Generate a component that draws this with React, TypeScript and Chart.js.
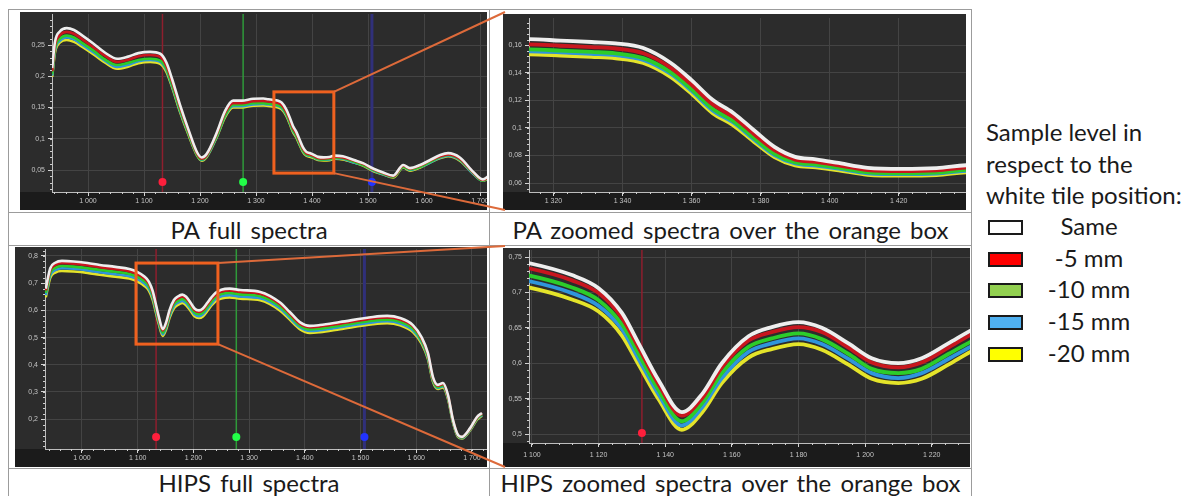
import React, { useEffect, useRef } from "react";
import { Chart, registerables } from "chart.js";
Chart.register(...registerables);

// ---------------- data ----------------
const SERIES_LABELS = ["Same", "-5 mm", "-10 mm", "-15 mm", "-20 mm"];

const PA_NM = [936, 941, 950, 962, 975, 990, 1010, 1030, 1052, 1070, 1090, 1111, 1129, 1140, 1150, 1164, 1180, 1195, 1203, 1212, 1230, 1245, 1259, 1275, 1295,
  1313, 1322, 1331, 1338, 1346, 1354, 1360, 1366, 1372, 1378, 1384, 1390, 1396, 1402, 1411, 1421, 1431, 1441,
  1455, 1475, 1491, 1510, 1527, 1545, 1563, 1575, 1593, 1611, 1629, 1643, 1664, 1688, 1705, 1715];
const PA_SAME = [0.213, 0.255, 0.272, 0.277, 0.274, 0.265, 0.252, 0.238, 0.228, 0.231, 0.237, 0.239, 0.236, 0.222, 0.196, 0.155, 0.113, 0.078, 0.070, 0.076, 0.110, 0.145, 0.161, 0.161, 0.164,
  0.1643, 0.1632, 0.1622, 0.1612, 0.1578, 0.1470, 0.1346, 0.1205, 0.1110, 0.0984, 0.0862, 0.0790, 0.0772, 0.0748, 0.0710, 0.0702, 0.0708, 0.0730,
  0.072, 0.066, 0.061, 0.052, 0.046, 0.041, 0.058, 0.053, 0.058, 0.066, 0.074, 0.077, 0.070, 0.047, 0.035, 0.040];
const PA_M5 = [0.208, 0.249, 0.266, 0.271, 0.268, 0.259, 0.246, 0.233, 0.223, 0.226, 0.232, 0.234, 0.231, 0.217, 0.192, 0.152, 0.111, 0.076, 0.068, 0.074, 0.108, 0.142, 0.157, 0.157, 0.160,
  0.1605, 0.1595, 0.1585, 0.1575, 0.1540, 0.1435, 0.1312, 0.1172, 0.1080, 0.0956, 0.0838, 0.0770, 0.0753, 0.0730, 0.0694, 0.0686, 0.0692, 0.0713,
  0.070, 0.065, 0.060, 0.051, 0.045, 0.040, 0.057, 0.052, 0.057, 0.065, 0.072, 0.075, 0.068, 0.046, 0.034, 0.039];
const PA_M10 = [0.203, 0.244, 0.260, 0.265, 0.262, 0.253, 0.241, 0.227, 0.218, 0.221, 0.226, 0.228, 0.225, 0.212, 0.187, 0.148, 0.108, 0.074, 0.067, 0.073, 0.105, 0.138, 0.154, 0.154, 0.157,
  0.1568, 0.1560, 0.1550, 0.1540, 0.1505, 0.1402, 0.1280, 0.1140, 0.1050, 0.0928, 0.0812, 0.0750, 0.0734, 0.0713, 0.0678, 0.0670, 0.0675, 0.0696,
  0.069, 0.063, 0.058, 0.050, 0.044, 0.039, 0.055, 0.051, 0.055, 0.063, 0.071, 0.074, 0.067, 0.045, 0.033, 0.038];
const PA_M15 = [0.201, 0.241, 0.257, 0.262, 0.259, 0.250, 0.238, 0.225, 0.215, 0.218, 0.224, 0.226, 0.223, 0.210, 0.185, 0.146, 0.107, 0.074, 0.066, 0.072, 0.104, 0.137, 0.152, 0.152, 0.155,
  0.1555, 0.1547, 0.1537, 0.1527, 0.1492, 0.1390, 0.1268, 0.1128, 0.1040, 0.0918, 0.0803, 0.0742, 0.0726, 0.0706, 0.0671, 0.0664, 0.0669, 0.0690,
  0.068, 0.062, 0.058, 0.049, 0.043, 0.039, 0.055, 0.050, 0.055, 0.062, 0.070, 0.073, 0.066, 0.044, 0.033, 0.038];
const PA_M20 = [0.199, 0.238, 0.254, 0.258, 0.255, 0.247, 0.235, 0.222, 0.212, 0.215, 0.221, 0.223, 0.220, 0.207, 0.183, 0.144, 0.105, 0.073, 0.065, 0.071, 0.103, 0.135, 0.150, 0.150, 0.153,
  0.1532, 0.1524, 0.1514, 0.1504, 0.1470, 0.1368, 0.1247, 0.1108, 0.1020, 0.0900, 0.0788, 0.0728, 0.0713, 0.0694, 0.0660, 0.0653, 0.0658, 0.0679,
  0.067, 0.062, 0.057, 0.048, 0.043, 0.038, 0.054, 0.049, 0.054, 0.062, 0.069, 0.072, 0.065, 0.044, 0.033, 0.037];

const HIPS_NM = [935, 943, 952, 964, 985, 1010, 1032, 1060, 1085, 1099, 1112, 1120, 1127, 1132, 1138, 1145, 1151, 1157, 1165, 1172, 1180, 1187, 1195, 1202, 1210, 1217, 1225, 1232, 1240, 1250, 1265, 1284, 1320, 1355, 1373, 1391, 1409, 1427, 1463, 1522, 1548, 1571, 1594, 1610, 1621, 1630, 1639, 1648, 1657, 1666, 1675, 1682, 1697, 1709, 1718];
const HIPS_SAME = [0.680, 0.755, 0.775, 0.782, 0.780, 0.774, 0.767, 0.760, 0.752, 0.7415, 0.7245, 0.706, 0.671, 0.628, 0.576, 0.531, 0.556, 0.600, 0.638, 0.651, 0.658, 0.650, 0.628, 0.607, 0.600, 0.607, 0.628, 0.647, 0.665, 0.676, 0.680, 0.675, 0.668, 0.630, 0.594, 0.557, 0.543, 0.546, 0.557, 0.576, 0.580, 0.572, 0.546, 0.500, 0.443, 0.355, 0.326, 0.333, 0.289, 0.197, 0.142, 0.135, 0.168, 0.208, 0.223];
const HIPS_M5 = [0.673, 0.747, 0.767, 0.774, 0.772, 0.766, 0.759, 0.752, 0.744, 0.734, 0.717, 0.699, 0.664, 0.622, 0.570, 0.526, 0.550, 0.594, 0.632, 0.644, 0.651, 0.644, 0.622, 0.601, 0.594, 0.601, 0.622, 0.641, 0.658, 0.669, 0.673, 0.668, 0.661, 0.624, 0.588, 0.551, 0.538, 0.541, 0.551, 0.570, 0.574, 0.566, 0.541, 0.495, 0.439, 0.351, 0.323, 0.330, 0.286, 0.195, 0.141, 0.134, 0.166, 0.206, 0.221];
const HIPS_M10 = [0.664, 0.737, 0.756, 0.763, 0.761, 0.755, 0.749, 0.742, 0.734, 0.724, 0.707, 0.689, 0.655, 0.613, 0.562, 0.518, 0.543, 0.586, 0.623, 0.635, 0.642, 0.634, 0.613, 0.592, 0.586, 0.592, 0.613, 0.631, 0.649, 0.660, 0.664, 0.659, 0.652, 0.615, 0.580, 0.544, 0.530, 0.533, 0.544, 0.562, 0.566, 0.558, 0.533, 0.488, 0.432, 0.346, 0.318, 0.325, 0.282, 0.192, 0.139, 0.132, 0.164, 0.203, 0.218];
const HIPS_M15 = [0.656, 0.729, 0.748, 0.755, 0.753, 0.747, 0.740, 0.733, 0.726, 0.716, 0.699, 0.681, 0.648, 0.606, 0.556, 0.512, 0.537, 0.579, 0.616, 0.628, 0.635, 0.627, 0.606, 0.586, 0.579, 0.586, 0.606, 0.624, 0.642, 0.652, 0.656, 0.651, 0.645, 0.608, 0.573, 0.538, 0.524, 0.527, 0.538, 0.556, 0.560, 0.552, 0.527, 0.483, 0.427, 0.343, 0.315, 0.321, 0.279, 0.190, 0.137, 0.130, 0.162, 0.201, 0.215];
const HIPS_M20 = [0.648, 0.720, 0.739, 0.745, 0.743, 0.738, 0.731, 0.724, 0.717, 0.707, 0.690, 0.673, 0.639, 0.598, 0.549, 0.506, 0.530, 0.572, 0.608, 0.620, 0.627, 0.619, 0.598, 0.578, 0.572, 0.578, 0.598, 0.617, 0.634, 0.644, 0.648, 0.643, 0.637, 0.600, 0.566, 0.531, 0.517, 0.520, 0.531, 0.549, 0.553, 0.545, 0.520, 0.477, 0.422, 0.338, 0.311, 0.317, 0.275, 0.188, 0.135, 0.129, 0.160, 0.198, 0.213];

const MARKER_NM = [1133, 1277, 1507];
const PA_BOX_NM = [1332, 1439];
const PA_BOX_VAL = [0.045, 0.175];
const HIPS_BOX_NM = [1097, 1244];
const HIPS_BOX_VAL = [0.476, 0.774];

const CAPTIONS = ["PA full spectra", "PA zoomed spectra over the orange box", "HIPS full spectra", "HIPS zoomed spectra over the orange box"];
const LEGEND_TITLE = ["Sample level in", "respect to the", "white tile position:"];

// ---------------- styles ----------------
const LINE_COLORS = ["#eeeeee", "#c8161e", "#2ccc2a", "#2f95dc", "#e4e42a"];
const LEGEND_FILLS = ["#ffffff", "#ff0000", "#92d050", "#4fb0f0", "#ffff00"];
const MARKER_LINE = ["#8e1f2e", "#2f9a3a", "#30307a"];
const MARKER_LINE_W = [1.5, 1.5, 3];
const MARKER_DOT = ["#ff1f3c", "#22ff48", "#2233ff"];
const ORANGE = "#f0611f";
const FONT = "Lato, 'Open Sans', sans-serif";

type Cfg = {
  left: number; top: number; w: number; h: number; axisLeft: number; padTop: number; band: number;
  xMin: number; xMax: number; yMin: number; yMax: number; xStep: number; yStep: number;
  xMinor: number; yMinor: number; lineW: number; xPad: number; dotOff: number; yTickFloor: number;
};

const P_PA_FULL: Cfg = { left: 20, top: 12, w: 467, h: 198, axisLeft: 32, padTop: 2, band: 18, xMin: 935.7, xMax: 1712.5, yMin: 0.0148, yMax: 0.2996, xStep: 100, yStep: 0.05, xMinor: 20, yMinor: 0.01, lineW: 2.6, xPad: 1, dotOff: 10, yTickFloor: 0 };
const P_PA_ZOOM: Cfg = { left: 503, top: 14, w: 463, h: 196, axisLeft: 26, padTop: 4, band: 18, xMin: 1312.9, xMax: 1439.5, yMin: 0.0535, yMax: 0.1796, xStep: 20, yStep: 0.02, xMinor: 4, yMinor: 0.004, lineW: 3.8, xPad: 1, dotOff: 10, yTickFloor: 0 };
const P_HIPS_FULL: Cfg = { left: 15, top: 247, w: 472, h: 220, axisLeft: 30, padTop: 2, band: 18, xMin: 933.6, xMax: 1727, yMin: 0.0904, yMax: 0.8257, xStep: 100, yStep: 0.1, xMinor: 20, yMinor: 0.02, lineW: 2.6, xPad: 1, dotOff: 12, yTickFloor: 0.15 };
const P_HIPS_ZOOM: Cfg = { left: 503, top: 248, w: 467, h: 219, axisLeft: 26, padTop: 2, band: 24, xMin: 1099.1, xMax: 1231.5, yMin: 0.4873, yMax: 0.7599, xStep: 20, yStep: 0.05, xMinor: 4, yMinor: 0.01, lineW: 3.8, xPad: 4, dotOff: 10, yTickFloor: 0 };

const fmtY = (v: number) => String(Math.round(v * 1000) / 1000).replace(".", ",");
const fmtX = (v: number) => {
  const r = Math.round(v);
  return `${Math.floor(r / 1000)} ${String(r % 1000).padStart(3, "0")}`;
};

const stepTicks = (min: number, max: number, step: number, floor: number) => {
  const out: { value: number }[] = [];
  for (let k = Math.ceil(min / step - 1e-9); k * step <= max + 1e-9; k++) {
    const v = Math.round(k * step * 1e6) / 1e6;
    if (v >= floor - 1e-9) out.push({ value: v });
  }
  return out;
};

function makeChart(canvas: HTMLCanvasElement, cfg: Cfg, nm: number[], series: number[][], box: { nm: number[]; val: number[] } | null) {
  const datasets = series.map((vals, i) => ({
    label: SERIES_LABELS[i],
    data: nm.map((x, j) => ({ x, y: vals[j] })),
    borderColor: LINE_COLORS[i],
    backgroundColor: LINE_COLORS[i],
    borderWidth: cfg.lineW,
    pointRadius: 0,
    cubicInterpolationMode: "monotone" as const,
    fill: false,
  }));

  const panelPlugin = {
    id: "panel",
    beforeDraw(chart: any) {
      const { ctx, chartArea: a } = chart;
      ctx.save();
      ctx.fillStyle = "#2c2c2c";
      ctx.fillRect(0, 0, chart.width, chart.height);
      ctx.fillStyle = "#1b1b1b";
      ctx.fillRect(0, a.bottom, chart.width, chart.height - a.bottom);
      ctx.restore();
    },
    beforeDatasetsDraw(chart: any) {
      const { ctx, chartArea: a, scales } = chart;
      const x = scales.x;
      ctx.save();
      MARKER_NM.forEach((m, i) => {
        if (m < x.min || m > x.max) return;
        const p = x.getPixelForValue(m);
        ctx.strokeStyle = MARKER_LINE[i];
        ctx.lineWidth = MARKER_LINE_W[i];
        ctx.beginPath();
        ctx.moveTo(p, a.top);
        ctx.lineTo(p, a.bottom);
        ctx.stroke();
        ctx.fillStyle = MARKER_DOT[i];
        ctx.beginPath();
        ctx.arc(p, a.bottom - cfg.dotOff, 4, 0, Math.PI * 2);
        ctx.fill();
      });
      ctx.restore();
    },
    afterDatasetsDraw(chart: any) {
      if (!box) return;
      const { ctx, scales } = chart;
      const x0 = scales.x.getPixelForValue(box.nm[0]);
      const x1 = scales.x.getPixelForValue(box.nm[1]);
      const y0 = scales.y.getPixelForValue(box.val[1]);
      const y1 = scales.y.getPixelForValue(box.val[0]);
      ctx.save();
      ctx.strokeStyle = ORANGE;
      ctx.lineWidth = 3;
      ctx.strokeRect(x0, y0, x1 - x0, y1 - y0);
      ctx.restore();
    },
    afterDraw(chart: any) {
      const { ctx, chartArea: a, scales } = chart;
      const x = scales.x, y = scales.y;
      ctx.save();
      ctx.strokeStyle = "#cfcfcf";
      ctx.lineWidth = 1;
      ctx.beginPath();
      for (let k = Math.ceil(x.min / cfg.xMinor); k * cfg.xMinor <= x.max; k++) {
        const p = Math.round(x.getPixelForValue(k * cfg.xMinor)) + 0.5;
        ctx.moveTo(p, a.bottom);
        ctx.lineTo(p, a.bottom + 2);
      }
      for (let k = Math.ceil(y.min / cfg.yMinor); k * cfg.yMinor <= y.max; k++) {
        const p = Math.round(y.getPixelForValue(k * cfg.yMinor)) + 0.5;
        ctx.moveTo(a.left - 2, p);
        ctx.lineTo(a.left, p);
      }
      ctx.stroke();
      ctx.restore();
    },
  };

  const tickFont = { size: 7, family: "'Liberation Sans', Arial, sans-serif" };

  return new Chart(canvas, {
    type: "line",
    data: { datasets },
    plugins: [panelPlugin],
    options: {
      responsive: false,
      animation: false,
      devicePixelRatio: 1,
      events: [],
      layout: { padding: { top: cfg.padTop, right: 0, left: 0, bottom: 0 } },
      plugins: { legend: { display: false }, tooltip: { enabled: false } },
      scales: {
        x: {
          type: "linear",
          min: cfg.xMin,
          max: cfg.xMax,
          afterBuildTicks: (s: any) => { s.ticks = stepTicks(cfg.xMin, cfg.xMax, cfg.xStep, -Infinity); },
          ticks: {
            autoSkip: false,
            maxRotation: 0,
            color: "#c4c4c4",
            font: tickFont,
            padding: cfg.xPad,
            callback: (v: any) => fmtX(Number(v)),
          },
          grid: { color: "#444444", lineWidth: 1, drawTicks: true, tickLength: 4, tickColor: "#d4d4d4" },
          border: { display: true, color: "#bdbdbd", width: 1 },
          afterFit: (s: any) => {
            s.height = cfg.band;
            s.paddingLeft = 0;
            s.paddingRight = 0;
          },
        },
        y: {
          type: "linear",
          min: cfg.yMin,
          max: cfg.yMax,
          afterBuildTicks: (s: any) => { s.ticks = stepTicks(cfg.yMin, cfg.yMax, cfg.yStep, cfg.yTickFloor); },
          ticks: {
            autoSkip: false,
            color: "#c4c4c4",
            font: tickFont,
            padding: 3,
            callback: (v: any) => fmtY(Number(v)),
          },
          grid: { color: "#444444", lineWidth: 1, drawTicks: true, tickLength: 4, tickColor: "#d4d4d4" },
          border: { display: true, color: "#bdbdbd", width: 1 },
          afterFit: (s: any) => {
            s.width = cfg.axisLeft;
            s.paddingTop = 0;
            s.paddingBottom = 0;
          },
        },
      },
    } as any,
  });
}

const lineStyle = (l: number, t: number, w: number, h: number): React.CSSProperties => ({
  position: "absolute", left: l, top: t, width: w, height: h, background: "#9c9c9c",
});

export default function App() {
  const c1 = useRef<HTMLCanvasElement>(null);
  const c2 = useRef<HTMLCanvasElement>(null);
  const c3 = useRef<HTMLCanvasElement>(null);
  const c4 = useRef<HTMLCanvasElement>(null);
  const ov = useRef<HTMLCanvasElement>(null);

  useEffect(() => {
    const paSeries = [PA_SAME, PA_M5, PA_M10, PA_M15, PA_M20];
    const hipsSeries = [HIPS_SAME, HIPS_M5, HIPS_M10, HIPS_M15, HIPS_M20];
    const ch1 = makeChart(c1.current!, P_PA_FULL, PA_NM, paSeries, { nm: PA_BOX_NM, val: PA_BOX_VAL });
    const ch2 = makeChart(c2.current!, P_PA_ZOOM, PA_NM, paSeries, null);
    const ch3 = makeChart(c3.current!, P_HIPS_FULL, HIPS_NM, hipsSeries, { nm: HIPS_BOX_NM, val: HIPS_BOX_VAL });
    const ch4 = makeChart(c4.current!, P_HIPS_ZOOM, HIPS_NM, hipsSeries, null);

    const o = ov.current!;
    const ctx = o.getContext("2d")!;
    ctx.clearRect(0, 0, o.width, o.height);
    const connect = (full: any, fcfg: Cfg, zcfg: Cfg, boxNm: number[], boxVal: number[]) => {
      const bx = fcfg.left + full.scales.x.getPixelForValue(boxNm[1]);
      const byTop = fcfg.top + full.scales.y.getPixelForValue(boxVal[1]);
      const byBot = fcfg.top + full.scales.y.getPixelForValue(boxVal[0]);
      ctx.strokeStyle = "#dd6a3a";
      ctx.lineWidth = 2;
      ctx.beginPath();
      ctx.moveTo(bx, byTop);
      ctx.lineTo(zcfg.left + 2, zcfg.top - 2);
      ctx.moveTo(bx, byBot);
      ctx.lineTo(zcfg.left + 2, zcfg.top + zcfg.h);
      ctx.stroke();
    };
    connect(ch1, P_PA_FULL, P_PA_ZOOM, PA_BOX_NM, PA_BOX_VAL);
    connect(ch3, P_HIPS_FULL, P_HIPS_ZOOM, HIPS_BOX_NM, HIPS_BOX_VAL);

    return () => {
      ch1.destroy(); ch2.destroy(); ch3.destroy(); ch4.destroy();
    };
  }, []);

  const cv = (ref: any, c: Cfg) => (
    <canvas ref={ref} width={c.w} height={c.h} style={{ position: "absolute", left: c.left, top: c.top, width: c.w, height: c.h }} />
  );

  const capStyle = (l: number, t: number, w: number, h: number): React.CSSProperties => ({
    position: "absolute", left: l, top: t, width: w, height: h, display: "flex", alignItems: "center",
    justifyContent: "center", fontFamily: FONT, fontSize: 24, wordSpacing: 3, color: "#1a1a1a", whiteSpace: "nowrap",
  });

  return (
    <div style={{ position: "absolute", left: 0, top: 0, width: 1203, height: 496, background: "#ffffff", overflow: "hidden" }}>
      {/* table lines */}
      <div style={lineStyle(8, 9, 964, 1)} />
      <div style={lineStyle(8, 212, 964, 1)} />
      <div style={lineStyle(8, 245, 964, 1)} />
      <div style={lineStyle(8, 468, 964, 1)} />
      <div style={lineStyle(8, 9, 1, 487)} />
      <div style={lineStyle(489, 9, 1, 487)} />
      <div style={lineStyle(971, 9, 1, 487)} />

      {cv(c1, P_PA_FULL)}
      {cv(c2, P_PA_ZOOM)}
      {cv(c3, P_HIPS_FULL)}
      {cv(c4, P_HIPS_ZOOM)}

      <div style={capStyle(9, 213, 480, 32)}>{CAPTIONS[0]}</div>
      <div style={capStyle(490, 213, 481, 32)}>{CAPTIONS[1]}</div>
      <div style={capStyle(9, 468, 480, 28)}>{CAPTIONS[2]}</div>
      <div style={capStyle(490, 468, 481, 28)}>{CAPTIONS[3]}</div>

      {/* legend */}
      <div style={{ position: "absolute", left: 986, top: 116, fontFamily: FONT, fontSize: 24, lineHeight: "31.5px", color: "#1a1a1a", whiteSpace: "nowrap" }}>
        {LEGEND_TITLE.map((t) => <div key={t}>{t}</div>)}
      </div>
      {SERIES_LABELS.map((s, i) => (
        <React.Fragment key={s}>
          <div style={{ position: "absolute", left: 988, top: 220 + i * 31.7, width: 31, height: 11, border: "2px solid #1a1a1a", background: LEGEND_FILLS[i] }} />
          <div style={{ position: "absolute", left: 1030, top: 210 + i * 31.7, width: 118, height: 31, display: "flex", alignItems: "center", justifyContent: "center", fontFamily: FONT, fontSize: 24, color: "#1a1a1a", whiteSpace: "nowrap" }}>{s}</div>
        </React.Fragment>
      ))}

      <canvas ref={ov} width={1203} height={496} style={{ position: "absolute", left: 0, top: 0, width: 1203, height: 496, pointerEvents: "none" }} />
    </div>
  );
}
